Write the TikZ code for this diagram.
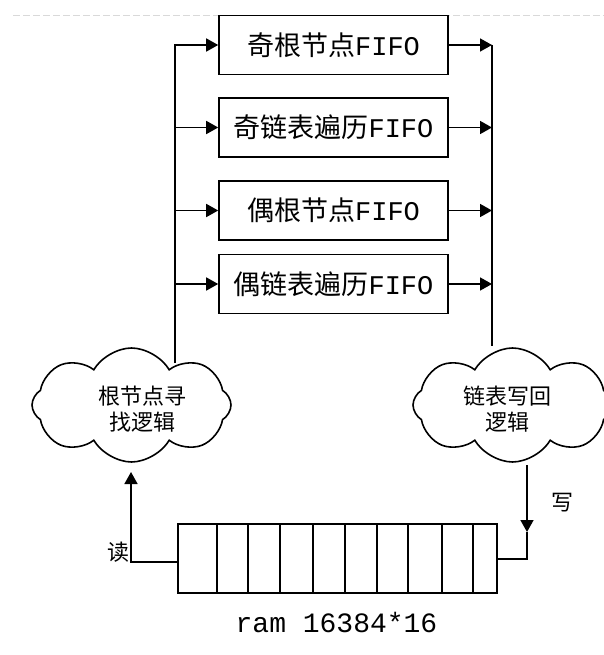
\documentclass[tikz,border=0pt]{standalone}
\usepackage{fontspec}
\newfontfamily\cjk{Noto Sans CJK SC}
\newfontfamily\lat{Liberation Mono}
\usetikzlibrary{shapes.symbols,arrows.meta}
\begin{document}
\begin{tikzpicture}[x=1pt,y=-1pt,
  line width=1.6pt,
  fifobox/.style={draw, minimum width=229pt, minimum height=59pt, inner sep=0pt, font=\fontsize{27pt}{30pt}\selectfont},
  arr/.style={-{Triangle[length=12pt,width=13pt]}},
  cloudshape/.style={draw, cloud, cloud puffs=8, cloud puff arc=120, minimum width=199pt, minimum height=114pt, inner sep=0pt},
  cloudtext/.style={align=center, font=\cjk\fontsize{22pt}{26pt}\selectfont},
  iolabel/.style={font=\cjk\fontsize{22pt}{26pt}\selectfont, inner sep=0pt},
  ramlabel/.style={font=\lat\fontsize{28pt}{30pt}\selectfont}
]
\useasboundingbox (0,0) rectangle (604,655);
\draw[line width=0.8pt, black!15, dash pattern=on 7pt off 3pt] (13,15) -- (604,15);

% FIFO boxes
\node[fifobox] (f1) at (333.5,45) {{\cjk 奇根节点}{\lat FIFO}};
\node[fifobox] (f2) at (333.5,127.5) {{\cjk 奇链表遍历}{\lat FIFO}};
\node[fifobox] (f3) at (333.5,210.5) {{\cjk 偶根节点}{\lat FIFO}};
\node[fifobox] (f4) at (333.5,284) {{\cjk 偶链表遍历}{\lat FIFO}};

% buses
\coordinate (lbtop) at (175,45);
\coordinate (lbbot) at (175,363);
\coordinate (rbtop) at (492,45);
\coordinate (rbbot) at (492,346);

\draw[arr] (lbbot) -- (lbtop) -- (f1.west);
\draw[arr] (f2.west -| lbtop) -- (f2.west);
\draw[arr] (f3.west -| lbtop) -- (f3.west);
\draw[arr] (f4.west -| lbtop) -- (f4.west);

\draw (rbtop) -- (rbbot);
\draw[arr] (f1.east) -- (rbtop);
\draw[arr] (f2.east) -- (f2.east -| rbtop);
\draw[arr] (f3.east) -- (f3.east -| rbtop);
\draw[arr] (f4.east) -- (f4.east -| rbtop);

% clouds
\node[cloudshape] (lc) at (131.5,405) {};
\node[cloudtext] (lt) at (142,409) {根节点寻\\找逻辑};
\node[cloudshape] (rc) at (512.5,405) {};
\node[cloudtext] (rt) at (507,409) {链表写回\\逻辑};

% RAM
\node[draw, minimum width=319pt, minimum height=69pt, inner sep=0pt] (ram) at (337.5,558.5) {};
\foreach \x in {217,248,280,313,345,377,408,442,473}
  \draw (ram.north -| \x,0) -- (ram.south -| \x,0);
\node[ramlabel] (ramtext) at (336.5,622.5) {ram 16384*16};

% read
\coordinate (rdcorner) at (131,562);
\coordinate (rdtip) at (131,472);
\draw[arr] (ram.west |- rdcorner) -- (rdcorner) -- (rdtip);
\node[iolabel] (rd) at (118.5,552.5) {读};

% write
\coordinate (wrtop) at (527,465);
\coordinate (wrmid) at (527,532);
\coordinate (wrcorner) at (527,559);
\draw[arr] (wrtop) -- (wrmid);
\draw (wrmid) -- (wrcorner) -- (ram.east |- wrcorner);
\node[iolabel] (wr) at (562.5,503) {写};
\end{tikzpicture}
\end{document}
